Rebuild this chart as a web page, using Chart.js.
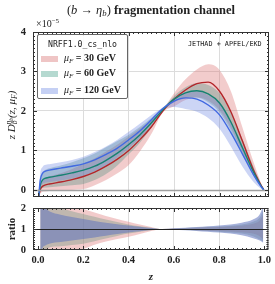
<!DOCTYPE html>
<html>
<head>
<meta charset="utf-8">
<script src="https://cdn.jsdelivr.net/npm/chart.js@4/dist/chart.umd.min.js"></script>
<style>
html, body { margin: 0; padding: 0; background: #fff; }
#wrap { position: relative; width: 275px; height: 284px; overflow: hidden; color: #222; font-family: "Liberation Serif", serif; }
canvas { position: absolute; left: 0; top: 0; }
.t { position: absolute; white-space: nowrap; }
.mono { font-family: "DejaVu Sans Mono", monospace; }
.sw { position: absolute; left: 3px; width: 17px; height: 6px; }
.lg { position: absolute; left: 26px; font: bold 10px "Liberation Serif", serif; }
sub { font-size: 70%; vertical-align: -2px; line-height: 0; }
sup { font-size: 70%; vertical-align: 4px; line-height: 0; }
</style>
</head>
<body>
<div id="wrap">
  <canvas id="main" width="275" height="284"></canvas>
  <canvas id="ratio" width="275" height="284"></canvas>

  <div class="t" style="left:33px;width:236px;top:3px;text-align:center;font:bold 12.5px 'Liberation Serif',serif;">
    <span style="font-weight:normal">(<i>b</i> → <i>η<sub>b</sub></i>)</span> fragmentation channel
  </div>
  <div class="t" style="left:36px;top:18px;font:10px 'Liberation Serif',serif;">×10<sup>−5</sup></div>
  <div class="t mono" style="left:188px;top:40px;font-size:6.8px;">JETHAD + APFEL/EKD</div>

  <div class="t" style="left:37px;top:34px;width:89px;height:63px;border:1px solid #666;border-radius:2px;background:rgba(255,255,255,0.9);">
    <div class="t mono" style="left:0;width:89px;top:4px;text-align:center;font-size:8.2px;">NRFF1.0_cs_nlo</div>
    <div class="sw" style="top:21px;background:rgba(225,150,150,0.55);"></div>
    <div class="lg" style="top:17px;"><i style="font-weight:normal">μ<sub>F</sub></i> = 30 GeV</div>
    <div class="sw" style="top:36px;background:rgba(120,185,170,0.55);"></div>
    <div class="lg" style="top:32px;"><i style="font-weight:normal">μ<sub>F</sub></i> = 60 GeV</div>
    <div class="sw" style="top:53px;background:rgba(150,170,235,0.55);"></div>
    <div class="lg" style="top:49px;"><i style="font-weight:normal">μ<sub>F</sub></i> = 120 GeV</div>
  </div>

  <div class="t" style="left:11px;top:115px;transform:translate(-50%,-50%) rotate(-90deg);font:italic 11px 'Liberation Serif',serif;">
    z D<sub>b</sub><sup style="margin-left:-4px">η<sub>b</sub></sup>(z, μ<sub>F</sub>)
  </div>
  <div class="t" style="left:11px;top:229px;transform:translate(-50%,-50%) rotate(-90deg);font:bold 11px 'Liberation Serif',serif;">ratio</div>
  <div class="t" style="left:151px;top:276px;transform:translate(-50%,-50%);font:italic bold 11px 'Liberation Serif',serif;">z</div>
</div>

<script>
// z grid of the main panel
const zVals = [0.003, 0.01, 0.02, 0.03, 0.05, 0.1, 0.15, 0.2, 0.25, 0.3, 0.35, 0.4, 0.45, 0.5, 0.55, 0.6, 0.65, 0.7, 0.75, 0.8, 0.85, 0.9, 0.95, 0.98, 0.995];

// mu_F = 30 GeV
const red30   = [-0.17, 0.0, 0.09, 0.12, 0.15, 0.2, 0.26, 0.34, 0.45, 0.6, 0.78, 1.0, 1.28, 1.6, 2.0, 2.3, 2.53, 2.69, 2.73, 2.5, 1.98, 1.25, 0.5, 0.15, 0.0];
const red30Lo = [-0.2, -0.1, -0.05, -0.04, -0.03, -0.02, 0.0, 0.02, 0.12, 0.25, 0.42, 0.63, 0.98, 1.42, 1.96, 2.12, 2.28, 2.34, 2.26, 2.02, 1.57, 0.97, 0.38, 0.1, 0.0];
const red30Hi = [-0.1, 0.1, 0.22, 0.28, 0.34, 0.42, 0.53, 0.66, 0.8, 0.97, 1.15, 1.35, 1.56, 1.78, 2.04, 2.45, 2.8, 3.05, 3.18, 3.04, 2.5, 1.6, 0.7, 0.22, 0.0];
// mu_F = 60 GeV
const green60   = [-0.17, 0.12, 0.25, 0.29, 0.32, 0.37, 0.43, 0.5, 0.6, 0.75, 0.93, 1.15, 1.4, 1.7, 2.03, 2.3, 2.46, 2.51, 2.43, 2.2, 1.72, 1.08, 0.45, 0.13, 0.0];
const green60Lo = [-0.2, 0.02, 0.05, 0.06, 0.07, 0.09, 0.12, 0.15, 0.25, 0.4, 0.62, 0.9, 1.2, 1.58, 2.0, 2.22, 2.32, 2.34, 2.22, 1.97, 1.5, 0.9, 0.35, 0.09, 0.0];
const green60Hi = [-0.12, 0.22, 0.42, 0.5, 0.55, 0.62, 0.7, 0.8, 0.92, 1.08, 1.24, 1.4, 1.6, 1.82, 2.06, 2.38, 2.6, 2.7, 2.66, 2.45, 1.96, 1.3, 0.58, 0.18, 0.0];
// mu_F = 120 GeV
const blue120   = [-0.17, 0.25, 0.42, 0.47, 0.5, 0.55, 0.6, 0.66, 0.76, 0.9, 1.06, 1.27, 1.5, 1.78, 2.06, 2.25, 2.33, 2.3, 2.15, 1.9, 1.45, 0.92, 0.38, 0.11, 0.0];
const blue120Lo = [-0.2, 0.05, 0.15, 0.18, 0.2, 0.24, 0.29, 0.35, 0.47, 0.62, 0.82, 1.05, 1.32, 1.65, 2.02, 2.1, 2.05, 1.98, 1.82, 1.55, 1.1, 0.6, 0.2, 0.04, 0.0];
const blue120Hi = [-0.1, 0.42, 0.58, 0.63, 0.65, 0.7, 0.76, 0.84, 0.96, 1.1, 1.27, 1.47, 1.68, 1.9, 2.09, 2.33, 2.48, 2.5, 2.4, 2.2, 1.74, 1.15, 0.52, 0.17, 0.0];

// ratio panel
const ratioZ = [0.01, 0.02, 0.03, 0.05, 0.1, 0.15, 0.2, 0.25, 0.3, 0.35, 0.4, 0.45, 0.5, 0.55, 0.6, 0.65, 0.7, 0.75, 0.8, 0.85, 0.9, 0.95, 0.98, 0.995];
const ratio30Lo  = [-0.3, -0.3, -0.2, -0.15, -0.1, 0.0, 0.05, 0.25, 0.4, 0.52, 0.63, 0.76, 0.9, 1.0, 0.98, 0.96, 0.94, 0.92, 0.9, 0.88, 0.85, 0.78, 0.65, 0.5];
const ratio30Hi  = [2.3, 2.3, 2.3, 2.3, 2.3, 2.1, 1.95, 1.78, 1.62, 1.48, 1.35, 1.22, 1.1, 1.0, 1.02, 1.04, 1.06, 1.08, 1.1, 1.12, 1.16, 1.25, 1.4, 1.7];
const ratio60Lo  = [-0.3, -0.1, 0.0, 0.12, 0.18, 0.24, 0.3, 0.42, 0.55, 0.67, 0.78, 0.87, 0.94, 1.0, 0.97, 0.95, 0.93, 0.9, 0.87, 0.83, 0.78, 0.65, 0.5, 0.4];
const ratio60Hi  = [2.3, 2.3, 2.3, 2.2, 2.0, 1.85, 1.72, 1.58, 1.45, 1.33, 1.22, 1.13, 1.06, 1.0, 1.02, 1.05, 1.07, 1.1, 1.12, 1.16, 1.22, 1.35, 1.55, 1.9];
const ratio120Lo = [-0.3, 0.1, 0.2, 0.3, 0.38, 0.45, 0.52, 0.6, 0.68, 0.76, 0.83, 0.89, 0.95, 1.0, 0.97, 0.94, 0.91, 0.87, 0.83, 0.78, 0.7, 0.56, 0.45, 0.35];
const ratio120Hi = [2.3, 2.1, 2.0, 1.85, 1.68, 1.57, 1.48, 1.38, 1.3, 1.23, 1.17, 1.11, 1.05, 1.0, 1.03, 1.06, 1.09, 1.13, 1.17, 1.22, 1.3, 1.45, 1.7, 2.1];

// tick labels
const zTicks = [0, 0.2, 0.4, 0.6, 0.8, 1.0];
const mainTicks = [0, 1, 2, 3, 4];
const ratioTicks = [0, 1, 2];

const colors = {
  red:   { line: '#b3262a', band: 'rgba(220,120,120,0.38)' },
  green: { line: '#178272', band: 'rgba(70,140,125,0.33)' },
  blue:  { line: '#4169e1', band: 'rgba(95,125,225,0.32)' }
};

function pts(xs, ys) { return xs.map((x, i) => ({ x: x, y: ys[i] })); }

function band(xs, lo, hi, color, order) {
  return [
    { data: pts(xs, hi), fill: '+1', backgroundColor: color, borderWidth: 0, pointRadius: 0, order: order, cubicInterpolationMode: 'monotone' },
    { data: pts(xs, lo), fill: false, borderWidth: 0, pointRadius: 0, order: order, cubicInterpolationMode: 'monotone' }
  ];
}

function line(xs, ys, color, order) {
  return { data: pts(xs, ys), fill: false, borderColor: color, borderWidth: 1.4, pointRadius: 0, order: order, cubicInterpolationMode: 'monotone' };
}

// frame with small ticks, plus one reference line drawn above the bands
const framePlugin = {
  id: 'frame',
  afterDatasetsDraw(chart, args, opts) {
    const { ctx, chartArea: a, scales } = chart;
    ctx.save();
    const yp = Math.round(scales.y.getPixelForValue(opts.hline)) + 0.5;
    ctx.strokeStyle = opts.hcolor;
    ctx.lineWidth = opts.hwidth;
    ctx.beginPath(); ctx.moveTo(a.left, yp); ctx.lineTo(a.right, yp); ctx.stroke();

    ctx.strokeStyle = '#333';
    ctx.lineWidth = 1;
    ctx.strokeRect(a.left + 0.5, a.top + 0.5, a.right - a.left - 1, a.bottom - a.top - 1);
    ctx.beginPath();
    for (let i = 0; i <= 50; i++) {
      const px = Math.round(scales.x.getPixelForValue(i * 0.02)) + 0.5;
      const len = i % 10 === 0 ? 4 : 2;
      ctx.moveTo(px, a.top); ctx.lineTo(px, a.top + len);
      ctx.moveTo(px, a.bottom); ctx.lineTo(px, a.bottom - len);
    }
    for (let v = opts.ymin; v <= opts.ymax + 1e-9; v += 0.1) {
      const py = Math.round(scales.y.getPixelForValue(v)) + 0.5;
      if (py < a.top || py > a.bottom) continue;
      const len = Math.abs(v - Math.round(v)) < 1e-6 ? 4 : 2;
      ctx.moveTo(a.left, py); ctx.lineTo(a.left + len, py);
      ctx.moveTo(a.right, py); ctx.lineTo(a.right - len, py);
    }
    ctx.stroke();
    ctx.restore();
  }
};

const tickFont = { family: 'Liberation Serif', size: 10.5, weight: 'bold' };

function xScale(showLabels) {
  return {
    type: 'linear', min: -0.022, max: 1.018,
    afterBuildTicks: s => { s.ticks = zTicks.map(v => ({ value: v })); },
    afterFit: s => { s.height = showLabels ? 34 : 0; },
    border: { display: false },
    grid: { drawTicks: false, color: c => (c.tick && c.tick.value > 0.1 && c.tick.value < 0.9) ? '#dcdcdc' : 'rgba(0,0,0,0)' },
    ticks: { display: showLabels, padding: 4, color: '#222', font: tickFont, maxRotation: 0, callback: v => v.toFixed(1) }
  };
}

function yScale(min, max, tickVals, showGrid) {
  return {
    min: min, max: max,
    afterBuildTicks: s => { s.ticks = tickVals.map(v => ({ value: v })); },
    afterFit: s => { s.width = 33; },
    border: { display: false },
    grid: { drawTicks: false, color: c => (showGrid && c.tick && c.tick.value > 0.5 && c.tick.value < max - 0.5) ? '#dcdcdc' : 'rgba(0,0,0,0)' },
    ticks: { padding: 7, color: '#222', font: tickFont, callback: v => String(v) }
  };
}

const mainDatasets = [].concat(
  band(zVals, red30Lo, red30Hi, colors.red.band, 9),
  band(zVals, green60Lo, green60Hi, colors.green.band, 8),
  band(zVals, blue120Lo, blue120Hi, colors.blue.band, 7),
  [line(zVals, red30, colors.red.line, 3),
   line(zVals, green60, colors.green.line, 2),
   line(zVals, blue120, colors.blue.line, 1)]
);

new Chart(document.getElementById('main'), {
  type: 'line',
  data: { datasets: mainDatasets },
  options: {
    responsive: false, animation: false,
    layout: { padding: { top: 32, bottom: 87, left: 0, right: 6 } },
    plugins: {
      legend: { display: false }, tooltip: { enabled: false },
      frame: { hline: 0, hcolor: '#a0a0a0', hwidth: 1.5, ymin: -0.1, ymax: 4 }
    },
    scales: { x: xScale(false), y: yScale(-0.18, 4, mainTicks, true) }
  },
  plugins: [framePlugin]
});

const ratioDatasets = [].concat(
  band(ratioZ, ratio30Lo, ratio30Hi, 'rgba(225,130,130,0.42)', 9),
  band(ratioZ, ratio60Lo, ratio60Hi, 'rgba(110,150,130,0.38)', 8),
  band(ratioZ, ratio120Lo, ratio120Hi, 'rgba(95,115,190,0.55)', 7)
);

new Chart(document.getElementById('ratio'), {
  type: 'line',
  data: { datasets: ratioDatasets },
  options: {
    responsive: false, animation: false,
    layout: { padding: { top: 208, bottom: 0, left: 0, right: 6 } },
    plugins: {
      legend: { display: false }, tooltip: { enabled: false },
      frame: { hline: 1, hcolor: '#222', hwidth: 1, ymin: 0, ymax: 2 }
    },
    scales: { x: xScale(true), y: yScale(0, 2, ratioTicks, false) }
  },
  plugins: [framePlugin]
});
</script>
</body>
</html>
